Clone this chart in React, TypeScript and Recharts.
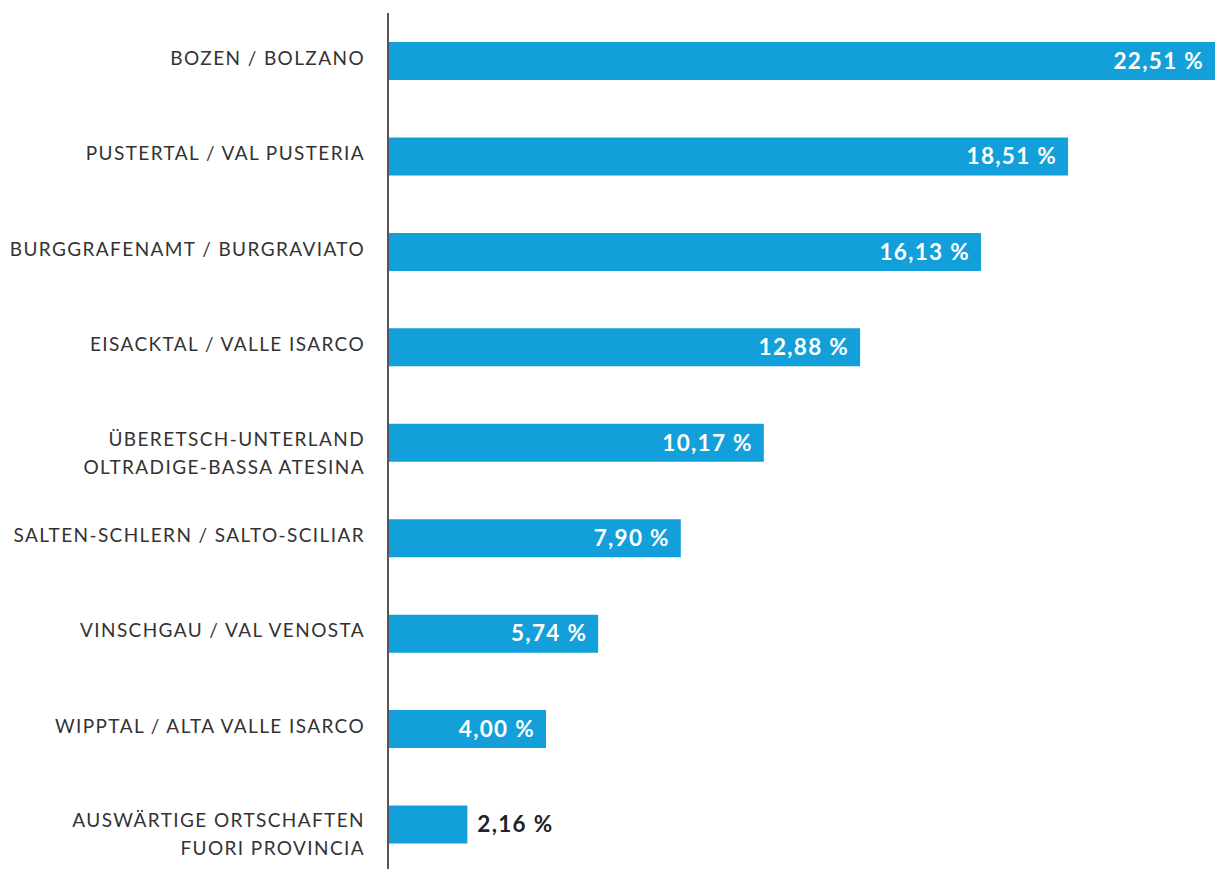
import { Bar, BarChart, LabelList, XAxis, YAxis } from "recharts";

const regions = [
  "BOZEN / BOLZANO",
  "PUSTERTAL / VAL PUSTERIA",
  "BURGGRAFENAMT / BURGRAVIATO",
  "EISACKTAL / VALLE ISARCO",
  "ÜBERETSCH-UNTERLAND\nOLTRADIGE-BASSA ATESINA",
  "SALTEN-SCHLERN / SALTO-SCILIAR",
  "VINSCHGAU / VAL VENOSTA",
  "WIPPTAL / ALTA VALLE ISARCO",
  "AUSWÄRTIGE ORTSCHAFTEN\nFUORI PROVINCIA",
];
// printed percentages
const shares = [22.51, 18.51, 16.13, 12.88, 10.17, 7.9, 5.74, 4.0, 2.16];
// bar lengths as drawn in the picture (a couple differ slightly from the labels)
const barLengths = [22.51, 18.51, 16.14, 12.85, 10.23, 7.97, 5.72, 4.3, 2.16];

const data = regions.map((name, i) => ({ name, bar: barLengths[i], share: shares[i] }));

const fmt = (v: number) => v.toFixed(2).replace(".", ",") + " %";

function RegionTick(props: any) {
  const { x, y, payload } = props;
  const lines = String(payload.value).split("\n");
  return (
    <text
      x={x}
      y={y}
      textAnchor="end"
      fill="#333"
      fontSize={19}
      fontWeight={400}
      letterSpacing={1.4}
      fontFamily="Lato, sans-serif"
    >
      {lines.map((l, i) => (
        <tspan key={i} x={x} dy={i === 0 ? (lines.length > 1 ? 3 : 4) : 28}>
          {l}
        </tspan>
      ))}
    </text>
  );
}

function ValueLabel(props: any) {
  const { x, y, width, height, value } = props;
  const inside = value > 3;
  return (
    <text
      x={inside ? x + width - 11 : x + width + 10}
      y={y + height / 2 + 2}
      textAnchor={inside ? "end" : "start"}
      dominantBaseline="middle"
      fill={inside ? "#fff" : "#222"}
      fontSize={22.5}
      fontWeight={700}
      letterSpacing={1.3}
      fontFamily="Lato, sans-serif"
    >
      {fmt(value)}
    </text>
  );
}

export default function App() {
  return (
    <div style={{ position: "absolute", top: 0, left: 0 }}>
      <BarChart width={1215} height={869} data={data} layout="vertical" margin={{ top: 13, right: 0, bottom: -3, left: 0 }}>
        <XAxis type="number" domain={[0, 22.51]} hide />
        <YAxis
          type="category"
          dataKey="name"
          width={388}
          tick={<RegionTick />}
          tickLine={false}
          tickMargin={17}
          axisLine={{ stroke: "#555", strokeWidth: 2 }}
          interval={0}
        />
        <Bar dataKey="bar" fill="#139fd9" barSize={38} isAnimationActive={false}>
          <LabelList dataKey="share" content={<ValueLabel />} />
        </Bar>
      </BarChart>
    </div>
  );
}
